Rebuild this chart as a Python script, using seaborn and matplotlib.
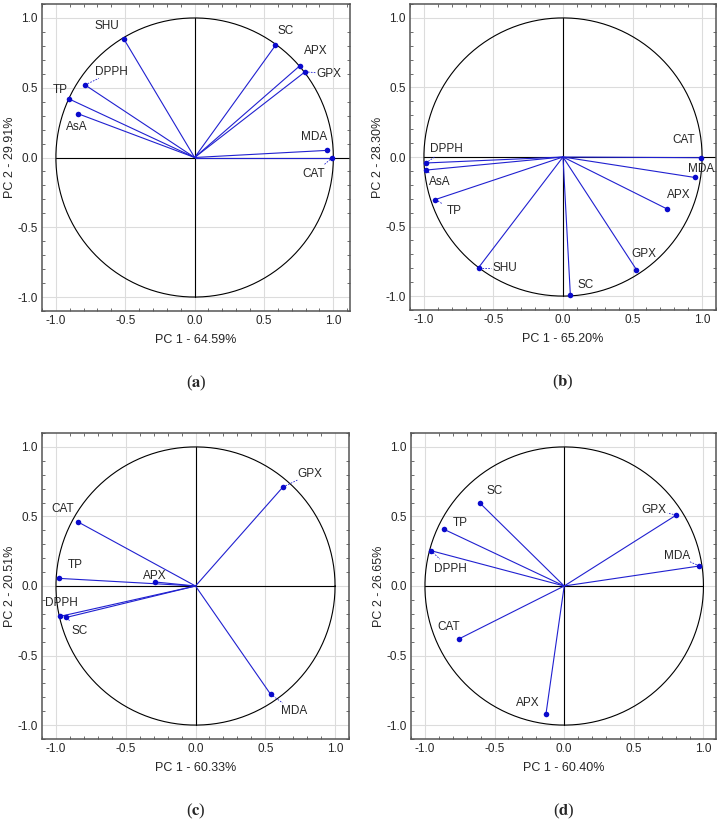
import numpy as np
import pandas as pd
import matplotlib
matplotlib.use("Agg")
import matplotlib.pyplot as plt
from matplotlib.ticker import MultipleLocator, FormatStrFormatter
import seaborn as sns

sns.set_theme(style="ticks")
plt.rcParams["font.family"] = ["Liberation Sans", "DejaVu Sans"]
plt.rcParams["mathtext.fontset"] = "stix"

# ── DATA: PCA loadings per panel ────────────────────────────
vars_a = ["SHU", "DPPH", "TP", "AsA", "SC", "APX", "GPX", "MDA", "CAT"]
pc1_a = [-0.511, -0.790, -0.906, -0.844, 0.583, 0.758, 0.796, 0.954, 0.993]
pc2_a = [0.851, 0.520, 0.420, 0.315, 0.804, 0.657, 0.614, 0.051, 0.000]

vars_b = ["DPPH", "AsA", "TP", "SHU", "SC", "GPX", "APX", "MDA", "CAT"]
pc1_b = [-0.986, -0.986, -0.918, -0.607, 0.053, 0.528, 0.747, 0.947, 0.995]
pc2_b = [-0.043, -0.094, -0.306, -0.795, -0.995, -0.810, -0.373, -0.147, -0.005]

vars_c = ["GPX", "CAT", "TP", "APX", "DPPH", "SC", "MDA"]
pc1_c = [0.626, -0.839, -0.981, -0.291, -0.969, -0.926, 0.538]
pc2_c = [0.711, 0.459, 0.055, 0.029, -0.218, -0.226, -0.778]

vars_d = ["SC", "TP", "DPPH", "CAT", "APX", "GPX", "MDA"]
pc1_d = [-0.607, -0.862, -0.957, -0.755, -0.131, 0.805, 0.971]
pc2_d = [0.598, 0.407, 0.254, -0.380, -0.921, 0.510, 0.144]

var_pc1 = ["64.59", "65.20", "60.33", "60.40"]
var_pc2 = ["29.91", "28.30", "20.51", "26.65"]
panel_tags = ["a", "b", "c", "d"]

# ── LAYOUT: label positions (data coords) and leader flags ──
label_pos_a = [(-0.63, 0.945), (-0.60, 0.61), (-0.965, 0.485), (-0.85, 0.22),
               (0.655, 0.905), (0.875, 0.76), (0.97, 0.60), (0.86, 0.145),
               (0.86, -0.115)]
leader_a = [False, True, False, True, False, False, True, False, True]

label_pos_b = [(-0.835, 0.06), (-0.885, -0.18), (-0.785, -0.385), (-0.415, -0.795),
               (0.16, -0.92), (0.585, -0.695), (0.83, -0.275), (0.99, -0.085),
               (0.865, 0.12)]
leader_b = [True, True, True, True, False, False, False, False, False]

label_pos_c = [(0.82, 0.805), (-0.95, 0.55), (-0.865, 0.15), (-0.29, 0.075),
               (-0.96, -0.125), (-0.83, -0.32), (0.705, -0.90)]
leader_c = [True, False, False, False, False, True, True]

label_pos_d = [(-0.50, 0.685), (-0.745, 0.45), (-0.82, 0.125), (-0.83, -0.295),
               (-0.26, -0.84), (0.645, 0.545), (0.81, 0.215)]
leader_d = [False, False, True, False, False, True, True]

panels = [
    (vars_a, pc1_a, pc2_a, label_pos_a, leader_a),
    (vars_b, pc1_b, pc2_b, label_pos_b, leader_b),
    (vars_c, pc1_c, pc2_c, label_pos_c, leader_c),
    (vars_d, pc1_d, pc2_d, label_pos_d, leader_d),
]

W, H = 722, 823
ax_boxes = [(42, 4, 350, 311), (410, 4, 716, 310),
            (42, 433, 349, 739), (411, 433, 716, 739)]
x_right = [1.12, 1.10, 1.10, 1.09]
zero_to_edge = [True, True, False, False]

BLUE = "#2020d0"
DOT = "#0a0acc"
FRAME = "#555555"

fig = plt.figure(figsize=(W / 100, H / 100), dpi=100)

theta = np.linspace(0, 2 * np.pi, 400)

for i, (names, x, y, lpos, lead) in enumerate(panels):
    l, t, r, b = ax_boxes[i]
    ax = fig.add_axes([l / W, 1 - b / H, (r - l) / W, (b - t) / H])
    df = pd.DataFrame({"var": names, "pc1": x, "pc2": y})

    xr = x_right[i]
    ax.set_xlim(-1.1, xr)
    ax.set_ylim(-1.1, 1.1)

    # grid, circle, axes lines
    ax.grid(True, which="major", color="#dcdcdc", linewidth=0.8)
    ax.set_axisbelow(True)
    ax.plot(np.cos(theta), np.sin(theta), color="black", lw=0.8, zorder=2)
    ax.plot([-1, xr if zero_to_edge[i] else 1], [0, 0], color="black", lw=0.8, zorder=2)
    ax.plot([0, 0], [-1, 1], color="black", lw=0.8, zorder=2)

    # loading vectors
    for px, py in zip(df["pc1"], df["pc2"]):
        ax.plot([0, px], [0, py], color=BLUE, lw=0.8, zorder=3)
    sns.scatterplot(data=df, x="pc1", y="pc2", ax=ax, color=DOT, s=16,
                    edgecolor=DOT, linewidth=0, zorder=4, legend=False)

    # labels and dashed leaders
    for name, px, py, (lx, ly), ld in zip(names, x, y, lpos, lead):
        ax.text(lx, ly, name, fontsize=8.5, ha="center", va="center", zorder=5)
        if ld:
            dx, dy = lx - px, ly - py
            dist = np.hypot(dx, dy)
            frac = max(0.0, (dist - 0.1) / dist)
            ax.plot([px, px + dx * frac], [py, py + dy * frac], color=BLUE,
                    lw=0.6, ls=(0, (2, 1.5)), zorder=3)

    ax.xaxis.set_major_locator(MultipleLocator(0.5))
    ax.yaxis.set_major_locator(MultipleLocator(0.5))
    ax.xaxis.set_minor_locator(MultipleLocator(0.1))
    ax.yaxis.set_minor_locator(MultipleLocator(0.1))
    ax.tick_params(which="both", direction="in", top=True, right=True,
                   color=FRAME, labelsize=8.5, pad=3)
    ax.tick_params(which="major", length=0)
    ax.tick_params(which="minor", length=2, width=0.6)
    ax.xaxis.set_major_formatter(FormatStrFormatter("%.1f"))
    ax.yaxis.set_major_formatter(FormatStrFormatter("%.1f"))
    for sp in ax.spines.values():
        sp.set_color(FRAME)
        sp.set_linewidth(1.1)

    ax.set_xlabel(f"PC 1 - {var_pc1[i]}%", fontsize=9, labelpad=5)
    ax.set_ylabel(f"PC 2 - {var_pc2[i]}%", fontsize=9, labelpad=1)

    # panel tag
    cx = (l + r) / 2 / W
    cy = 1 - (b + 72) / H
    fig.text(cx, cy, rf"($\mathbf{{{panel_tags[i]}}}$)", fontsize=12,
             ha="center", va="center", family="Liberation Serif")

fig.savefig("out.png", dpi=100)
